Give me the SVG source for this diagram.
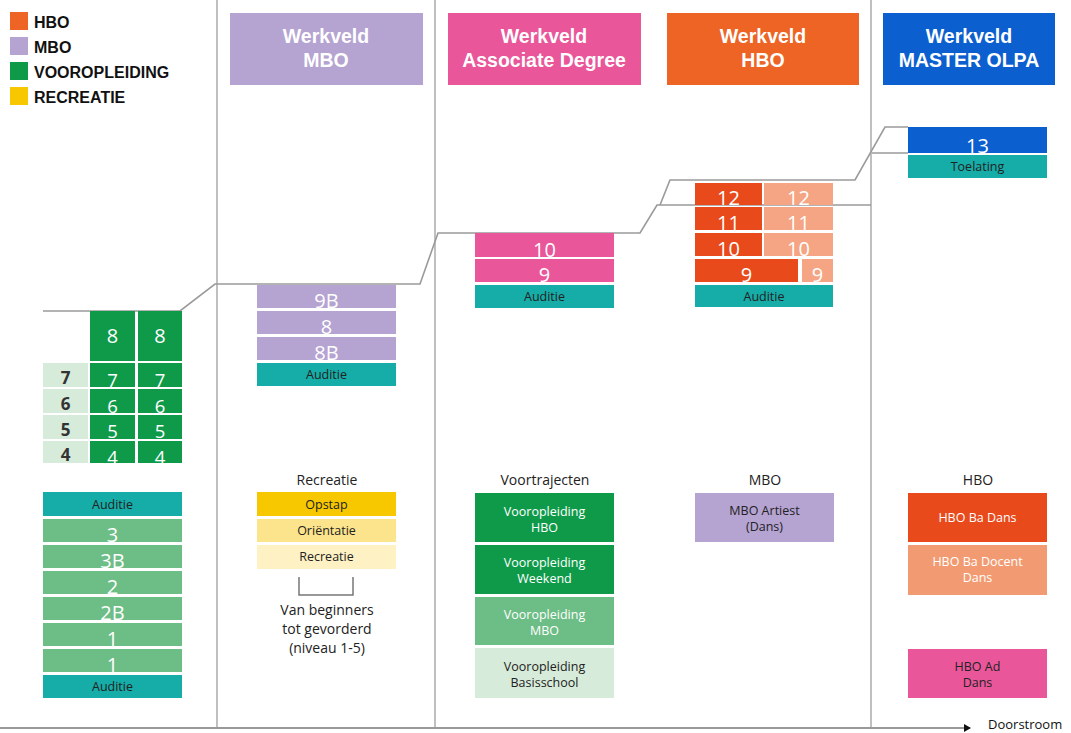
<svg xmlns="http://www.w3.org/2000/svg" width="1071" height="733" viewBox="0 0 1071 733">
<defs>
<style>
.hdr{font-family:"Liberation Sans",Arial,sans-serif;font-weight:bold;font-size:19.5px;fill:#fff;text-anchor:middle}
.leg{font-family:"Liberation Sans",Arial,sans-serif;font-weight:bold;font-size:16px;fill:#111}
.num{font-family:"Open Sans","Liberation Sans",sans-serif;font-size:20px;fill:#fff;text-anchor:middle}
.num2{font-family:"Open Sans","Liberation Sans",sans-serif;font-size:18.5px;fill:#fff;text-anchor:middle}
.numd{font-family:"Open Sans","Liberation Sans",sans-serif;font-weight:bold;font-size:17px;fill:#333;text-anchor:middle}
.sm{font-family:"Open Sans","Liberation Sans",sans-serif;font-size:12.5px;fill:#222;text-anchor:middle}
.smw{font-family:"Open Sans","Liberation Sans",sans-serif;font-size:12.5px;fill:#fff;text-anchor:middle}
.lbl{font-family:"Open Sans","Liberation Sans",sans-serif;font-size:14px;fill:#222;text-anchor:middle}
.teal{fill:#16aca7}
.dg{fill:#0f9a4a}
.mg{fill:#6dbd86}
.lg{fill:#d6ebd9}
.lav{fill:#b5a3d2}
.pink{fill:#e9569a}
.red{fill:#e84a1c}
.sal{fill:#f5a583}
.blue{fill:#0c5fcf}
.step{fill:none;stroke:#9a9a9a;stroke-width:1.6}
.vline{stroke:#b0b0b0;stroke-width:1.6}
</style>
<marker id="arr" markerWidth="8" markerHeight="8" refX="6" refY="4" orient="auto" markerUnits="userSpaceOnUse">
<path d="M0,0 L7,4 L0,8 Z" fill="#111"/>
</marker>
</defs>
<rect width="1071" height="733" fill="#fff"/>

<g id="legend">
<rect x="10" y="12" width="18" height="18" fill="#ed6424"/>
<text class="leg" x="34" y="28">HBO</text>
<rect x="10" y="37" width="18" height="18" fill="#b5a3d2"/>
<text class="leg" x="34" y="53">MBO</text>
<rect x="10" y="62" width="18" height="18" fill="#0f9a4a"/>
<text class="leg" x="34" y="78">VOOROPLEIDING</text>
<rect x="10" y="87" width="18" height="18" fill="#f7c800"/>
<text class="leg" x="34" y="103">RECREATIE</text>
</g>

<g id="columns">
<line class="vline" x1="217" y1="0" x2="217" y2="728"/>
<line class="vline" x1="435" y1="0" x2="435" y2="728"/>
<line class="vline" x1="871" y1="0" x2="871" y2="728"/>
</g>

<g id="connectors">
<path class="step" d="M43,311 H180 L215,284 H420 L438,233 H640 L657,205 H871"/>
<path class="step" d="M660,205 L670,180 H855 L885,127 H908"/>
<path class="step" d="M872,153 H908"/>
<line x1="0" y1="728" x2="970" y2="728" stroke="#999" stroke-width="2" marker-end="url(#arr)"/>
<path d="M299,577 V595 H353 V577" fill="none" stroke="#777" stroke-width="1.5"/>
</g>

<g id="hdr-mbo">
<rect class="lav" x="230" y="13" width="193" height="72"/>
<text class="hdr" x="326" y="43">Werkveld</text>
<text class="hdr" x="326" y="67">MBO</text>
</g>
<g id="hdr-ad">
<rect class="pink" x="448" y="13" width="193" height="72"/>
<text class="hdr" x="544" y="43">Werkveld</text>
<text class="hdr" x="544" y="67">Associate Degree</text>
</g>
<g id="hdr-hbo">
<rect fill="#ed6424" x="667" y="13" width="192" height="72"/>
<text class="hdr" x="763" y="43">Werkveld</text>
<text class="hdr" x="763" y="67">HBO</text>
</g>
<g id="hdr-master">
<rect class="blue" x="883" y="13" width="172" height="72"/>
<text class="hdr" x="969" y="43">Werkveld</text>
<text class="hdr" x="969" y="67">MASTER OLPA</text>
</g>

<g id="voor-upper">
<rect class="dg" x="90" y="311" width="45" height="50"/>
<rect class="dg" x="138" y="311" width="44" height="50"/>
<text class="num" x="112.5" y="343">8</text>
<text class="num" x="160" y="343">8</text>
<rect class="lg" x="43" y="363" width="45" height="24"/>
<rect class="dg" x="90" y="363" width="45" height="24"/>
<rect class="dg" x="138" y="363" width="44" height="24"/>
<text class="numd" x="65.5" y="384">7</text>
<text class="num2" x="112.5" y="387">7</text>
<text class="num2" x="160" y="387">7</text>
<rect class="lg" x="43" y="389" width="45" height="24"/>
<rect class="dg" x="90" y="389" width="45" height="24"/>
<rect class="dg" x="138" y="389" width="44" height="24"/>
<text class="numd" x="65.5" y="410">6</text>
<text class="num2" x="112.5" y="412.5">6</text>
<text class="num2" x="160" y="412.5">6</text>
<rect class="lg" x="43" y="415" width="45" height="24"/>
<rect class="dg" x="90" y="415" width="45" height="24"/>
<rect class="dg" x="138" y="415" width="44" height="24"/>
<text class="numd" x="65.5" y="436">5</text>
<text class="num2" x="112.5" y="438">5</text>
<text class="num2" x="160" y="438">5</text>
<rect class="lg" x="43" y="441" width="45" height="22"/>
<rect class="dg" x="90" y="441" width="45" height="22"/>
<rect class="dg" x="138" y="441" width="44" height="22"/>
<text class="numd" x="65.5" y="461">4</text>
<text class="num2" x="112.5" y="463.5">4</text>
<text class="num2" x="160" y="463.5">4</text>
</g>

<g id="voor-lower">
<rect class="teal" x="43" y="492" width="139" height="24"/>
<text class="sm" x="112.5" y="509">Auditie</text>
<rect class="mg" x="43" y="519" width="139" height="23"/>
<text class="num" x="112.5" y="542">3</text>
<rect class="mg" x="43" y="545" width="139" height="23"/>
<text class="num" x="112.5" y="568">3B</text>
<rect class="mg" x="43" y="571" width="139" height="23"/>
<text class="num" x="112.5" y="594">2</text>
<rect class="mg" x="43" y="597" width="139" height="23"/>
<text class="num" x="112.5" y="620">2B</text>
<rect class="mg" x="43" y="623" width="139" height="23"/>
<text class="num" x="112.5" y="646">1</text>
<rect class="mg" x="43" y="649" width="139" height="23"/>
<text class="num" x="112.5" y="672">1</text>
<rect class="teal" x="43" y="675" width="139" height="23"/>
<text class="sm" x="112.5" y="691">Auditie</text>
</g>

<g id="mbo-stack">
<rect class="lav" x="257" y="285" width="139" height="23"/>
<text class="num" x="326.5" y="308">9B</text>
<rect class="lav" x="257" y="311" width="139" height="23"/>
<text class="num" x="326.5" y="334">8</text>
<rect class="lav" x="257" y="337" width="139" height="23"/>
<text class="num" x="326.5" y="360">8B</text>
<rect class="teal" x="257" y="363" width="139" height="23"/>
<text class="sm" x="326.5" y="379">Auditie</text>
</g>

<g id="recreatie">
<text class="lbl" x="327" y="485">Recreatie</text>
<rect fill="#f7c800" x="257" y="492" width="139" height="24"/>
<text class="sm" x="326.5" y="509">Opstap</text>
<rect fill="#fce48c" x="257" y="519" width="139" height="23"/>
<text class="sm" x="326.5" y="535">Oriëntatie</text>
<rect fill="#fef1c4" x="257" y="545" width="139" height="24"/>
<text class="sm" x="326.5" y="561">Recreatie</text>
<text class="lbl" x="327" y="615">Van beginners</text>
<text class="lbl" x="327" y="634">tot gevorderd</text>
<text class="lbl" x="327" y="653">(niveau 1-5)</text>
</g>

<g id="ad-stack">
<rect class="pink" x="475" y="233" width="139" height="24"/>
<text class="num" x="544.5" y="257">10</text>
<rect class="pink" x="475" y="259" width="139" height="23"/>
<text class="num" x="544.5" y="282">9</text>
<rect class="teal" x="475" y="285" width="139" height="23"/>
<text class="sm" x="544.5" y="301">Auditie</text>
</g>

<g id="voortrajecten">
<text class="lbl" x="545" y="485">Voortrajecten</text>
<rect class="dg" x="475" y="493" width="139" height="49"/>
<text class="smw" x="544.5" y="516">Vooropleiding</text>
<text class="smw" x="544.5" y="532">HBO</text>
<rect class="dg" x="475" y="545" width="139" height="49"/>
<text class="smw" x="544.5" y="567">Vooropleiding</text>
<text class="smw" x="544.5" y="583">Weekend</text>
<rect class="mg" x="475" y="597" width="139" height="48"/>
<text class="smw" x="544.5" y="619">Vooropleiding</text>
<text class="smw" x="544.5" y="635">MBO</text>
<rect class="lg" x="475" y="648" width="139" height="50"/>
<text class="sm" x="544.5" y="671">Vooropleiding</text>
<text class="sm" x="544.5" y="687">Basisschool</text>
</g>

<g id="hbo-stack">
<rect class="red" x="695" y="183" width="67" height="22"/>
<rect class="sal" x="764" y="183" width="69" height="22"/>
<text class="num" x="728.5" y="205">12</text>
<text class="num" x="798.5" y="205">12</text>
<rect class="red" x="695" y="207" width="67" height="23"/>
<rect class="sal" x="764" y="207" width="69" height="23"/>
<text class="num" x="728.5" y="230">11</text>
<text class="num" x="798.5" y="230">11</text>
<rect class="red" x="695" y="233" width="67" height="23"/>
<rect class="sal" x="764" y="233" width="69" height="23"/>
<text class="num" x="728.5" y="256">10</text>
<text class="num" x="798.5" y="256">10</text>
<rect class="red" x="695" y="259" width="103" height="23"/>
<rect class="sal" x="802" y="259" width="31" height="23"/>
<text class="num" x="746.5" y="282">9</text>
<text class="num" x="817.5" y="282">9</text>
<rect class="teal" x="695" y="285" width="138" height="22"/>
<text class="sm" x="764" y="301">Auditie</text>
</g>

<g id="mbo-artiest">
<text class="lbl" x="765" y="485">MBO</text>
<rect class="lav" x="695" y="493" width="139" height="49"/>
<text class="sm" x="764.5" y="515">MBO Artiest</text>
<text class="sm" x="764.5" y="531">(Dans)</text>
</g>

<g id="master-stack">
<rect class="blue" x="908" y="127" width="139" height="26"/>
<text class="num" x="977.5" y="153">13</text>
<rect class="teal" x="908" y="155" width="139" height="23"/>
<text class="sm" x="977.5" y="171">Toelating</text>
</g>

<g id="hbo-opl">
<text class="lbl" x="978" y="485">HBO</text>
<rect class="red" x="908" y="493" width="139" height="49"/>
<text class="smw" x="977.5" y="522">HBO Ba Dans</text>
<rect fill="#f29b72" x="908" y="545" width="139" height="50"/>
<text class="smw" x="977.5" y="566">HBO Ba Docent</text>
<text class="smw" x="977.5" y="582">Dans</text>
<rect class="pink" x="908" y="649" width="139" height="49"/>
<text class="sm" x="977.5" y="671">HBO Ad</text>
<text class="sm" x="977.5" y="687">Dans</text>
</g>

<g id="doorstroom">
<text font-family="Open Sans, Liberation Sans, sans-serif" font-size="13" fill="#111" x="988" y="729">Doorstroom</text>
</g>
</svg>
